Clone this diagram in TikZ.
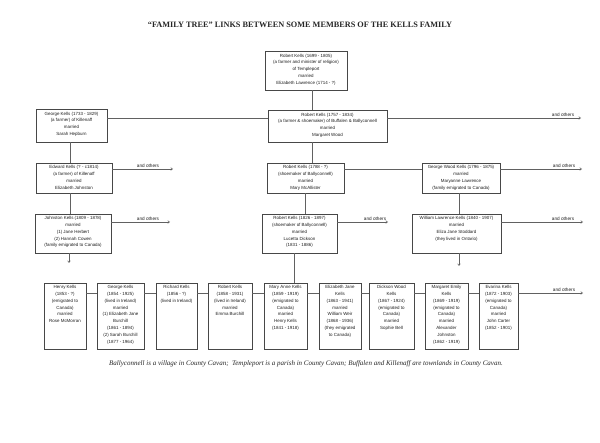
\documentclass[tikz,border=0pt]{standalone}
\usepackage{fontspec}
\setmainfont{Liberation Serif}
\newfontfamily\boxfont{Liberation Sans}
\usetikzlibrary{arrows.meta}
\begin{document}
\begin{tikzpicture}[x=1pt,y=-1pt,
 fam/.style={draw=black!72, line width=0.6pt, rectangle, inner sep=0pt},
 txt/.style={anchor=north, align=center, inner sep=0pt, text=black!88, font=\boxfont\fontsize{4.45}{6.8}\selectfont},
 link/.style={draw=black!62, line width=0.55pt},
 oth/.style={link, -{Straight Barb[length=1.8pt,width=2.6pt]}},
 othlbl/.style={anchor=south, inner sep=0.4pt, text=black!88, font=\boxfont\fontsize{4.7}{5}\selectfont}
]
\useasboundingbox (0,0) rectangle (600,443);
\fill[white] (0,0) rectangle (600,443);

% title
\node[font=\bfseries\fontsize{8.25}{9}\selectfont, text=black!85] (title) at (300,25) {“FAMILY TREE” LINKS BETWEEN SOME MEMBERS OF THE KELLS FAMILY};

% boxes
\node[fam, minimum width=82pt, minimum height=39pt] (top) at (306,70.5) {};
\node[fam, minimum width=71pt, minimum height=33pt] (george) at (71.5,125.5) {};
\node[fam, minimum width=119pt, minimum height=32pt] (rA) at (327.5,126) {};
\node[fam, minimum width=76pt, minimum height=30pt] (edward) at (74,178) {};
\node[fam, minimum width=77pt, minimum height=30pt] (rB) at (305.5,178) {};
\node[fam, minimum width=78pt, minimum height=30pt] (gw) at (461,178) {};
\node[fam, minimum width=76pt, minimum height=39pt] (johnston) at (73,233.5) {};
\node[fam, minimum width=75pt, minimum height=39pt] (rC) at (299.5,233.5) {};
\node[fam, minimum width=89pt, minimum height=39pt] (william) at (456.5,233.5) {};

\node[fam, minimum width=42pt, minimum height=66pt] (b1) at (65,316) {};
\node[fam, minimum width=47pt, minimum height=66pt] (b2) at (120.5,316) {};
\node[fam, minimum width=41pt, minimum height=66pt] (b3) at (176.5,316) {};
\node[fam, minimum width=44pt, minimum height=66pt] (b4) at (230,316) {};
\node[fam, minimum width=43pt, minimum height=66pt] (b5) at (285.5,316) {};
\node[fam, minimum width=42pt, minimum height=66pt] (b6) at (340,316) {};
\node[fam, minimum width=45pt, minimum height=66pt] (b7) at (391.5,316) {};
\node[fam, minimum width=43pt, minimum height=66pt] (b8) at (446.5,316) {};
\node[fam, minimum width=39pt, minimum height=66pt] (b9) at (498.5,316) {};

% texts
\node[txt] (ttop) at ([yshift=-3pt]top.north) {Robert Kells (1699 - 1805)\\(a farmer and minister of religion)\\of Templeport\\married\\Elizabeth Lawrence (1714 - ?)};
\node[txt] (tgeorge) at ([yshift=-3pt]george.north) {George Kells (1733 - 1829)\\(a farmer) of Killenaff\\married\\Sarah Hepburn};
\node[txt] (trA) at ([yshift=-3pt]rA.north) {Robert Kells (1757 - 1834)\\(a farmer \& shoemaker) of Buffalen \& Ballyconnell\\married\\Margaret Wood};
\node[txt] (tedward) at ([yshift=-2.5pt]edward.north) {Edward Kells (? - c1814)\\(a farmer) of Killenaff\\married\\Elizabeth Johnston};
\node[txt] (trB) at ([yshift=-2.5pt]rB.north) {Robert Kells (1788 - ?)\\(shoemaker of Ballyconnell)\\married\\Mary McAllister};
\node[txt] (tgw) at ([yshift=-2.5pt]gw.north) {George Wood Kells (1796 - 1875)\\married\\Maryanne Lawrence\\(family emigrated to Canada)};
\node[txt] (tjohnston) at ([yshift=-2.5pt]johnston.north) {Johnston Kells (1809 - 1878)\\married\\(1) Jane Herbert\\(2) Hannah Cowen\\(family emigrated to Canada)};
\node[txt] (trC) at ([yshift=-2.5pt]rC.north) {Robert Kells (1826 - 1897)\\(shoemaker of Ballyconnell)\\married\\Lucetta Dickson\\(1831 - 1886)};
\node[txt] (twilliam) at ([yshift=-2.5pt]william.north) {William Lawrence Kells (1840 - 1907)\\married\\Eliza Jane Stoddard\\(they lived in Ontario)};

\node[txt] (tb1) at ([yshift=-2.5pt]b1.north) {Henry Kells\\(1853 - ?)\\(emigrated to\\Canada)\\married\\Rose McMorran};
\node[txt] (tb2) at ([yshift=-2.5pt]b2.north) {George Kells\\(1854 - 1925)\\(lived in Ireland)\\married\\(1) Elizabeth Jane\\Burchill\\(1861 - 1894)\\(2) Sarah Burchill\\(1877 - 1964)};
\node[txt] (tb3) at ([yshift=-2.5pt]b3.north) {Richard Kells\\(1856 - ?)\\(lived in Ireland)};
\node[txt] (tb4) at ([yshift=-2.5pt]b4.north) {Robert Kells\\(1858 - 1931)\\(lived in Ireland)\\married\\Emma Burchill};
\node[txt] (tb5) at ([yshift=-2.5pt]b5.north) {Mary Anne Kells\\(1859 - 1919)\\(emigrated to\\Canada)\\married\\Henry Kells\\(1841 - 1918)};
\node[txt] (tb6) at ([yshift=-2.5pt]b6.north) {Elizabeth Jane\\Kells\\(1863 - 1941)\\married\\William Weir\\(1868 - 1936)\\(they emigrated\\to Canada)};
\node[txt] (tb7) at ([yshift=-2.5pt]b7.north) {Dickson Wood\\Kells\\(1867 - 1924)\\(emigrated to\\Canada)\\married\\Sophie Bell};
\node[txt] (tb8) at ([yshift=-2.5pt]b8.north) {Margaret Emily\\Kells\\(1869 - 1919)\\(emigrated to\\Canada)\\married\\Alexander\\Johnston\\(1862 - 1919)};
\node[txt] (tb9) at ([yshift=-2.5pt]b9.north) {Evarina Kells\\(1872 - 1903)\\(emigrated to\\Canada)\\married\\John Carter\\(1852 - 1901)};

% "and others" end points
\coordinate (e1) at (581,118);
\coordinate (e2) at (173,169);
\coordinate (e3) at (582,169);
\coordinate (e4) at (170,222);
\coordinate (e5) at (388,222);
\coordinate (e6) at (583,222);
\coordinate (e7) at (583,293);
\coordinate (d1) at (69,263);
\coordinate (d2) at (459,266);

% connectors
\draw[link] ([xshift=6.5pt]top.south) -- ([xshift=6.5pt]top.south |- rA.north);
\draw[link] (george.east |- 0,118) -- (rA.west |- 0,118);
\draw[oth] (rA.east |- e1) -- (e1);
\draw[link] (rA.south -| 312,0) -- (rB.north -| 312,0);
\draw[link] (george.south -| 70,0) -- (edward.north -| 70,0);
\draw[oth] (edward.east |- e2) -- (e2);
\draw[link] (rB.east |- 0,169) -- (gw.west |- 0,169);
\draw[oth] (gw.east |- e3) -- (e3);
\draw[link] (edward.south -| 70,0) -- (johnston.north -| 70,0);
\draw[oth] (johnston.east |- e4) -- (e4);
\draw[oth] (johnston.south -| d1) -- (d1);
\draw[link] (rB.south -| 305,0) -- (rC.north -| 305,0);
\draw[oth] (rC.east |- e5) -- (e5);
\draw[link] (gw.south -| d2) -- (william.north -| d2);
\draw[oth] (william.east |- e6) -- (e6);
\draw[oth] (william.south -| d2) -- (d2);
\draw[link] (rC.south -| 294,0) -- (b5.north -| 294,0);
\foreach \a/\b in {b1/b2,b2/b3,b3/b4,b4/b5,b5/b6,b6/b7,b7/b8,b8/b9}
  \draw[link] (\a.east |- 0,293) -- (\b.west |- 0,293);
\draw[oth] (b9.east |- e7) -- (e7);

% labels
\node[othlbl] (l1) at (563,117.5) {and others};
\node[othlbl] (l2) at (148,168.5) {and others};
\node[othlbl] (l3) at (564,168.5) {and others};
\node[othlbl] (l4) at (148,221.5) {and others};
\node[othlbl] (l5) at (375,221.5) {and others};
\node[othlbl] (l6) at (563,221.5) {and others};
\node[othlbl] (l7) at (564,292.5) {and others};

% footnote
\node[font=\itshape\fontsize{7}{8}\selectfont, text=black!85] (foot) at (306,364) {Ballyconnell is a village in County Cavan;\ \ Templeport is a parish in County Cavan; Buffalen and Killenaff are townlands in County Cavan.};
\end{tikzpicture}
\end{document}
